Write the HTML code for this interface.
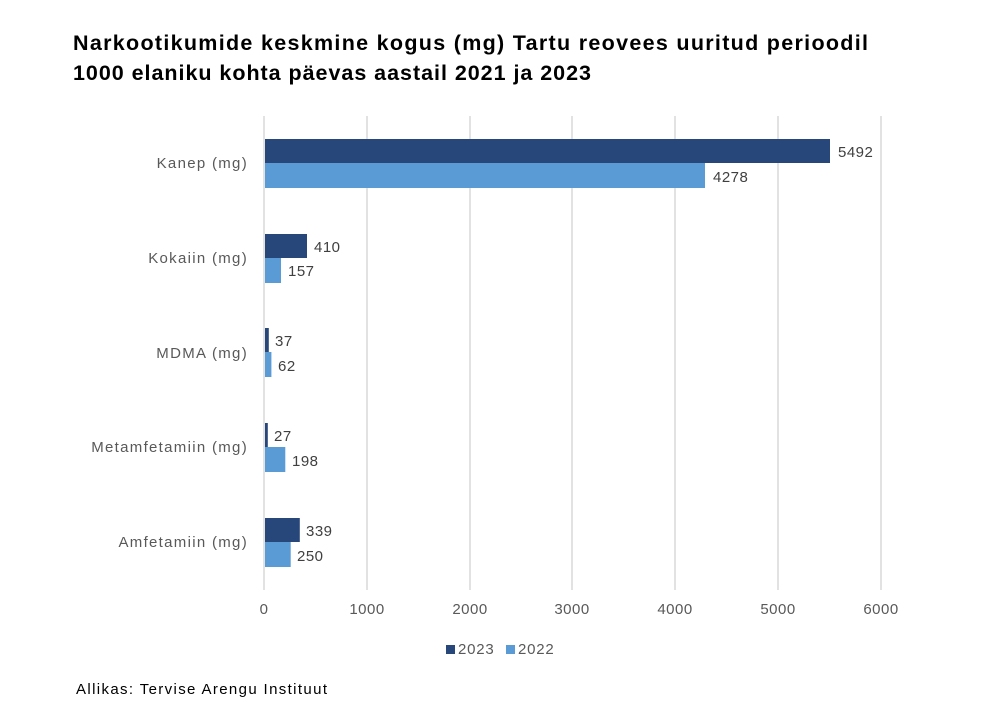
<!DOCTYPE html>
<html><head><meta charset="utf-8"><style>
body{margin:0;background:#fff;}
svg{display:block;font-family:"Liberation Sans",sans-serif;}
</style></head><body>
<svg width="990" height="720" xmlns="http://www.w3.org/2000/svg">
<rect width="990" height="720" fill="#fff"/>
<text x="73" y="50" font-size="21.5" font-weight="bold" fill="#000" textLength="795" lengthAdjust="spacing">Narkootikumide keskmine kogus (mg) Tartu reovees uuritud perioodil</text>
<text x="73" y="80" font-size="21.5" font-weight="bold" fill="#000" textLength="518" lengthAdjust="spacing">1000 elaniku kohta päevas aastail 2021 ja 2023</text>
<g stroke="#d9d9d9" stroke-width="1.5">
<line x1="264" y1="116" x2="264" y2="590"/>
<line x1="367" y1="116" x2="367" y2="590"/>
<line x1="470" y1="116" x2="470" y2="590"/>
<line x1="572" y1="116" x2="572" y2="590"/>
<line x1="675" y1="116" x2="675" y2="590"/>
<line x1="778" y1="116" x2="778" y2="590"/>
<line x1="881" y1="116" x2="881" y2="590"/>
</g>
<g fill="#27467A">
<rect x="265" y="139" width="565" height="24"/>
<rect x="265" y="234" width="42" height="24"/>
<rect x="265" y="328" width="3.8" height="24"/>
<rect x="265" y="423" width="2.8" height="24"/>
<rect x="265" y="518" width="34.8" height="24"/>
</g>
<g fill="#5B9BD5">
<rect x="265" y="163" width="440" height="25"/>
<rect x="265" y="258" width="16" height="25"/>
<rect x="265" y="352" width="6.4" height="25"/>
<rect x="265" y="447" width="20.3" height="25"/>
<rect x="265" y="542" width="25.7" height="25"/>
</g>
<g font-size="15" fill="#404040" letter-spacing="0.5">
<text x="838" y="157">5492</text><text x="713" y="182">4278</text>
<text x="314" y="252">410</text><text x="288" y="276">157</text>
<text x="275" y="346">37</text><text x="278" y="371">62</text>
<text x="274" y="441">27</text><text x="292" y="466">198</text>
<text x="306" y="536">339</text><text x="297" y="561">250</text>
</g>
<g font-size="15" fill="#595959" text-anchor="end" letter-spacing="1.3">
<text x="248" y="168">Kanep (mg)</text>
<text x="248" y="263">Kokaiin (mg)</text>
<text x="248" y="358">MDMA (mg)</text>
<text x="248" y="452">Metamfetamiin (mg)</text>
<text x="248" y="547">Amfetamiin (mg)</text>
</g>
<g font-size="15" fill="#595959" text-anchor="middle" letter-spacing="0.5">
<text x="264" y="614">0</text><text x="367" y="614">1000</text><text x="470" y="614">2000</text>
<text x="572" y="614">3000</text><text x="675" y="614">4000</text><text x="778" y="614">5000</text><text x="881" y="614">6000</text>
</g>
<rect x="446" y="645" width="9" height="9" fill="#27467A"/>
<text x="458" y="654" font-size="15" fill="#595959" letter-spacing="0.8">2023</text>
<rect x="506" y="645" width="9" height="9" fill="#5B9BD5"/>
<text x="518" y="654" font-size="15" fill="#595959" letter-spacing="0.8">2022</text>
<text x="76" y="694" font-size="15" fill="#000" textLength="251" lengthAdjust="spacing">Allikas: Tervise Arengu Instituut</text>
</svg>
</body></html>
